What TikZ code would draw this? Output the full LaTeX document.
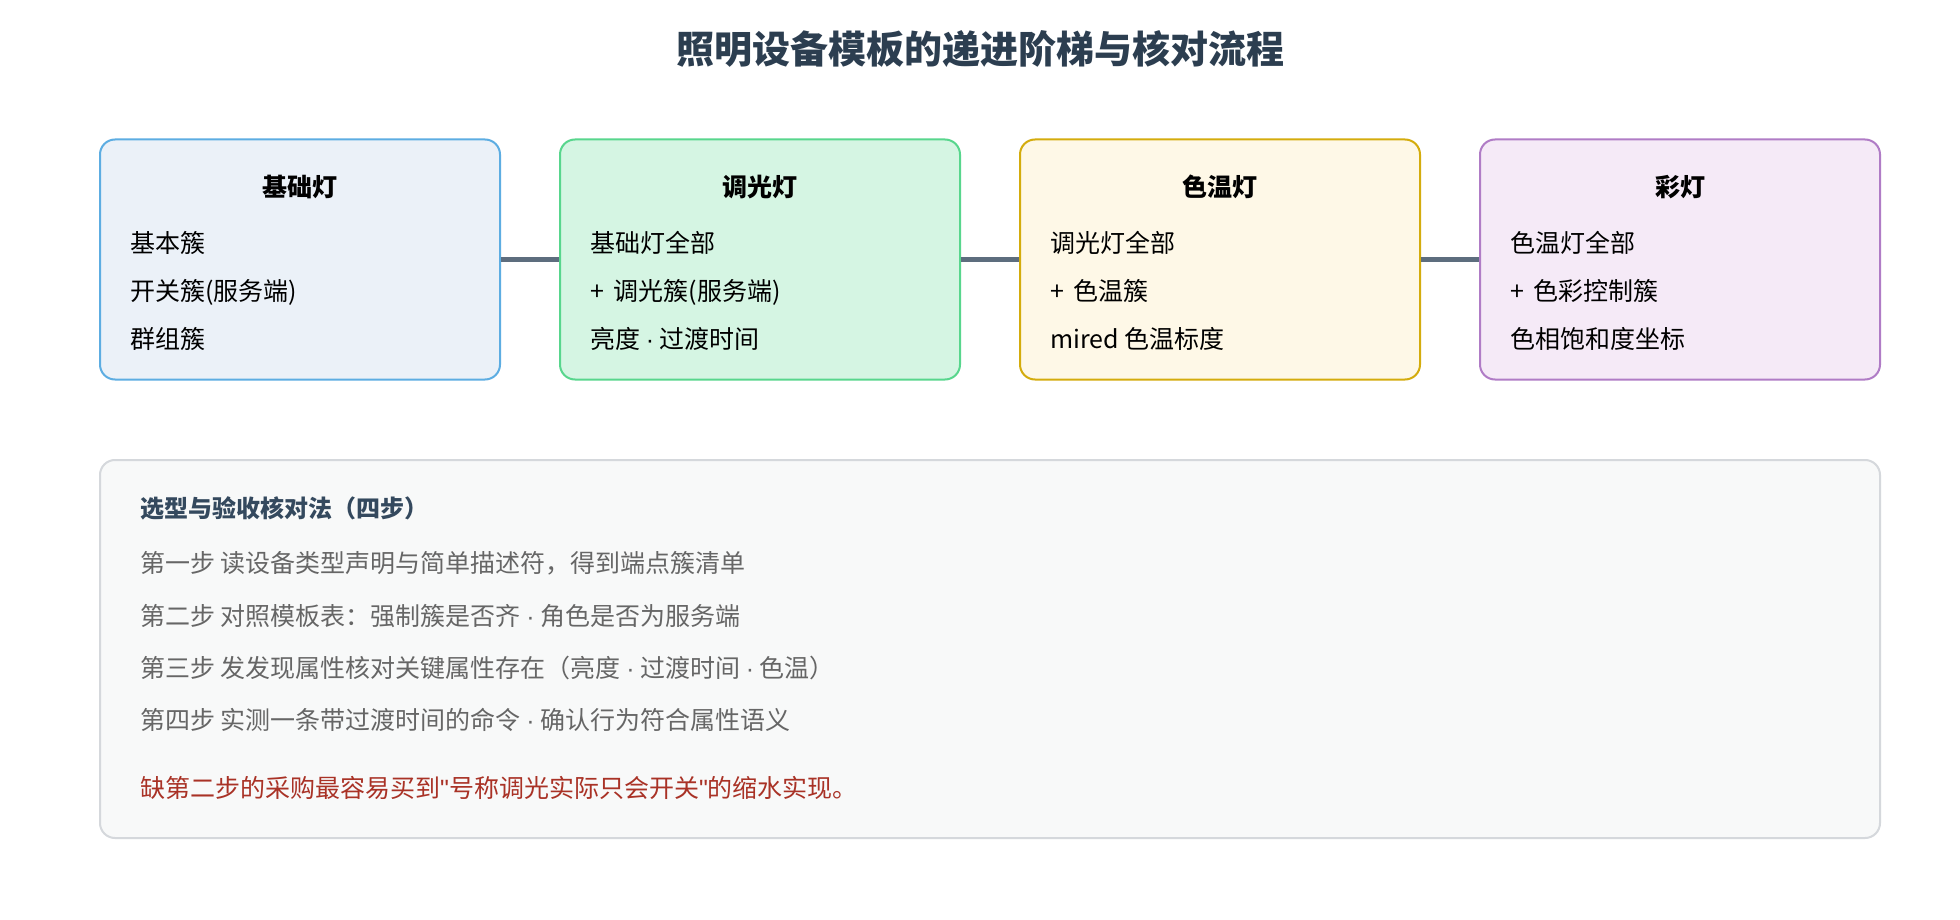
\documentclass[tikz,border=0pt]{standalone}
\usepackage{fontspec}
\setmainfont{Noto Sans CJK SC}
\newfontfamily\qf{Liberation Sans}
\newcommand\mdot{{\qf\char"B7}}
\newcommand\dq{{\qf"}}
\newcommand\plusgap{+\kern4pt\ }
\definecolor{titlec}{HTML}{2C3E50}
\definecolor{linkc}{HTML}{5D6D7E}
\definecolor{f1}{HTML}{EBF1F8}\definecolor{d1}{HTML}{5DADE2}
\definecolor{f2}{HTML}{D5F5E3}\definecolor{d2}{HTML}{58D68D}
\definecolor{f3}{HTML}{FEF8E7}\definecolor{d3}{HTML}{D4AC0D}
\definecolor{f4}{HTML}{F5EAF7}\definecolor{d4}{HTML}{B07CC6}
\definecolor{panelf}{HTML}{F8F9F9}\definecolor{paneld}{HTML}{D5D8DC}
\definecolor{stepc}{HTML}{666666}
\definecolor{warnc}{HTML}{A93226}
\definecolor{subc}{HTML}{34495E}
\begin{document}
\begin{tikzpicture}[x=1pt,y=-1pt,
  box/.style={draw, line width=2pt, rounded corners=15pt, minimum width=400pt, minimum height=240pt, inner sep=0pt},
  boxtitle/.style={font=\fontsize{25}{25}\selectfont\bfseries, anchor=base, text=black},
  item/.style={font=\fontsize{25}{25}\selectfont, anchor=base west, text=black, inner sep=0pt},
  steptext/.style={font=\fontsize{25}{25}\selectfont, anchor=base west, text=stepc, inner sep=0pt},
  link/.style={draw=linkc, line width=5pt}]
\useasboundingbox (0,0) rectangle (1960,920);
\fill[white] (0,0) rectangle (1960,920);

\node[anchor=base, font=\fontsize{38}{38}\selectfont\bfseries, text=titlec] (title) at (980,64) {照明设备模板的递进阶梯与核对流程};

\node[box, draw=d1, fill=f1] (b1) at (300,259.5) {};
\node[box, draw=d2, fill=f2] (b2) at (760,259.5) {};
\node[box, draw=d3, fill=f3] (b3) at (1220,259.5) {};
\node[box, draw=d4, fill=f4] (b4) at (1680,259.5) {};

\draw[link] (b1.east) -- (b2.west);
\draw[link] (b2.east) -- (b3.west);
\draw[link] (b3.east) -- (b4.west);

\node[boxtitle] (t1) at (300,197) {基础灯};
\node[item] (t1a) at (130,252) {基本簇};
\node[item] (t1b) at (130,300) {开关簇(服务端)};
\node[item] (t1c) at (130,348) {群组簇};

\node[boxtitle] (t2) at (760,197) {调光灯};
\node[item] (t2a) at (590,252) {基础灯全部};
\node[item] (t2b) at (590,300) {\plusgap 调光簇(服务端)};
\node[item] (t2c) at (590,348) {亮度 \mdot{} 过渡时间};

\node[boxtitle] (t3) at (1220,197) {色温灯};
\node[item] (t3a) at (1050,252) {调光灯全部};
\node[item] (t3b) at (1050,300) {\plusgap 色温簇};
\node[item] (t3c) at (1050,348) {mired 色温标度};

\node[boxtitle] (t4) at (1680,197) {彩灯};
\node[item] (t4a) at (1510,252) {色温灯全部};
\node[item] (t4b) at (1510,300) {\plusgap 色彩控制簇};
\node[item] (t4c) at (1510,348) {色相饱和度坐标};

\node[draw=paneld, fill=panelf, line width=2pt, rounded corners=15pt, minimum width=1780pt, minimum height=378pt, inner sep=0pt] (panel) at (990,649) {};

\node[font=\fontsize{24}{24}\selectfont\bfseries, anchor=base west, text=subc, inner sep=0pt] (ph) at (140,517) {选型与验收核对法（四步）};
\node[steptext] (s1) at (140,572) {第一步 读设备类型声明与简单描述符，得到端点簇清单};
\node[steptext] (s2) at (140,625) {第二步 对照模板表：强制簇是否齐 \mdot{} 角色是否为服务端};
\node[steptext] (s3) at (140,677) {第三步 发发现属性核对关键属性存在（亮度 \mdot{} 过渡时间 \mdot{} 色温）};
\node[steptext] (s4) at (140,729) {第四步 实测一条带过渡时间的命令 \mdot{} 确认行为符合属性语义};
\node[steptext, text=warnc] (warn) at (140,797) {缺第二步的采购最容易买到\dq{}号称调光实际只会开关\dq{}的缩水实现。};
\end{tikzpicture}
\end{document}
